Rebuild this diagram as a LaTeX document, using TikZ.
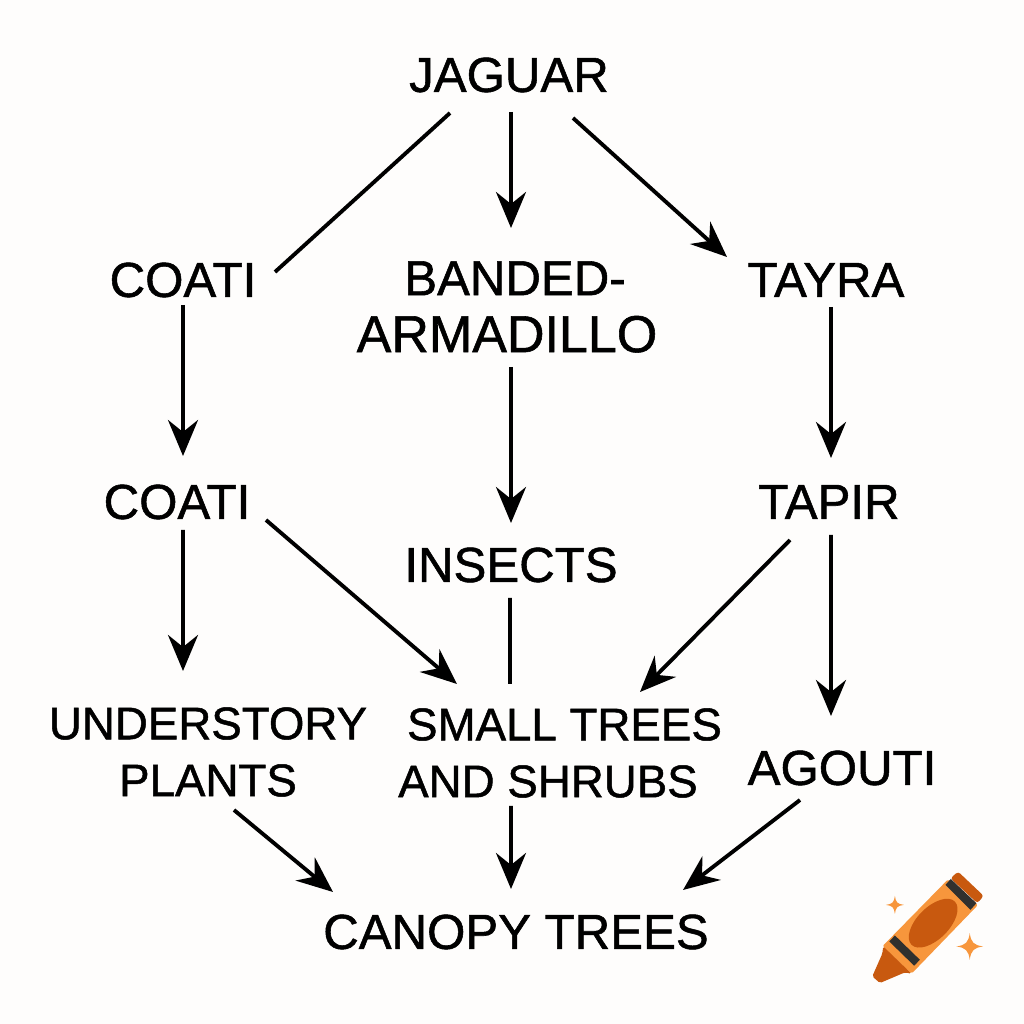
\documentclass[tikz,border=0pt]{standalone}
\usepackage{fontspec}
\setmainfont{Liberation Sans}[AutoFakeBold=1.1]
\usetikzlibrary{arrows.meta}
\definecolor{paper}{HTML}{FEFDFC}
\definecolor{crayon}{HTML}{F7963C}
\definecolor{crayondark}{HTML}{C8590F}
\definecolor{crayonband}{HTML}{30302E}
\tikzset{
  animal/.style={inner sep=0pt, align=center, font=\fontsize{14}{16.2}\selectfont\bfseries},
  plant/.style={animal, font=\fontsize{13}{16.2}\selectfont\bfseries},
  feeds/.style={line width=1.1pt, -{Stealth[length=3.6mm, width=3mm, inset=1.2mm]}},
  plainlink/.style={line width=1.1pt}
}
\begin{document}
\begin{tikzpicture}
\fill [paper] (0,0) rectangle (10.24,10.24);
\useasboundingbox (0,0) rectangle (10.24,10.24);
\node [animal] (jaguar) at (5.09,9.49) {JAGUAR};
\node [animal] (coatia) at (1.83,7.44) {COATI};
\node [animal] (armadillo) at (5.07,7.17) {\hspace*{.16cm}BANDED-\\{\fontsize{14.8}{16.2}\selectfont\bfseries ARMADILLO}};
\node [animal] (tayra) at (8.26,7.44) {TAYRA};
\node [animal] (coatib) at (1.77,5.22) {COATI};
\node [animal] (insects) at (5.11,4.59) {INSECTS};
\node [animal] (tapir) at (8.29,5.22) {TAPIR};
\node [plant] (understory) at (2.08,2.72) {UNDERSTORY\\PLANTS};
\node [plant] (shrubs) at (5.48,2.71) {\hspace*{.33cm}SMALL TREES\\AND SHRUBS};
\node [animal] (agouti) at (8.42,2.56) {AGOUTI};
\node [animal] (canopy) at (5.16,0.92) {CANOPY TREES};
\draw [plainlink] ([shift={(-.59,-.38)}]jaguar.center) -- ([shift={(.92,.08)}]coatia.center);
\draw [feeds] ([shift={(.02,-.37)}]jaguar.center) -- ([shift={(.04,.79)}]armadillo.center);
\draw [feeds] ([shift={(.64,-.43)}]jaguar.center) -- ([shift={(-.99,.23)}]tayra.center);
\draw [feeds] ([shift={(0,-.25)}]coatia.center) -- ([shift={(.06,.46)}]coatib.center);
\draw [feeds] ([shift={(.04,-.60)}]armadillo.center) -- ([shift={(0,.42)}]insects.center);
\draw [feeds] ([shift={(.05,-.27)}]tayra.center) -- ([shift={(.02,.44)}]tapir.center);
\draw [feeds] ([shift={(.06,-.28)}]coatib.center) -- ([shift={(-.25,.81)}]understory.center);
\draw [feeds] ([shift={(.89,-.18)}]coatib.center) -- ([shift={(-.91,.69)}]shrubs.center);
\draw [plainlink] ([shift={(-.01,-.33)}]insects.center) -- ([shift={(-.38,.69)}]shrubs.center);
\draw [feeds] ([shift={(-.39,-.38)}]tapir.center) -- ([shift={(.92,.61)}]shrubs.center);
\draw [feeds] ([shift={(.02,-.33)}]tapir.center) -- ([shift={(-.11,.52)}]agouti.center);
\draw [feeds] ([shift={(.26,-.58)}]understory.center) -- ([shift={(-1.83,.40)}]canopy.center);
\draw [feeds] ([shift={(-.37,-.53)}]shrubs.center) -- ([shift={(-.05,.43)}]canopy.center);
\draw [feeds] ([shift={(-.42,-.32)}]agouti.center) -- ([shift={(1.67,.42)}]canopy.center);
% crayon
\begin{scope}[shift={(8.5,1.74)}, x=.003333cm, y=-.003333cm]
\fill [crayon, rounded corners=.5pt] (295,88) -- (385,165) -- (185,372) -- (97,290) -- cycle;
\fill [crayondark, rounded corners=.8pt] (325,65) -- (402,138) -- (383,160) -- (302,85) -- cycle;
\fill [crayondark, rounded corners=.5pt] (100,290) -- (97,312) -- (67,380) -- (90,400) -- (165,368) -- (185,372) -- cycle;
\fill [crayon] (108,285) -- (190,362) -- (205,345) -- (123,268) -- cycle;
\fill [crayonband] (303,87) -- (380,160) -- (362,180) -- (287,105) -- cycle;
\fill [crayonband] (135,257) -- (210,330) -- (193,348) -- (118,275) -- cycle;
\fill [crayondark, rotate around={45:(250,220)}] (250,220) ellipse [x radius=92, y radius=48];
\fill [crayon] (135,138) .. controls (138,158) and (142,162) .. (162,165) .. controls (142,168) and (138,172) .. (135,192) .. controls (132,172) and (128,168) .. (108,165) .. controls (128,162) and (132,158) .. (135,138) -- cycle;
\fill [crayon] (360,250) .. controls (364,278) and (372,286) .. (400,290) .. controls (372,294) and (364,302) .. (360,330) .. controls (356,302) and (348,294) .. (320,290) .. controls (348,286) and (356,278) .. (360,250) -- cycle;
\end{scope}
\end{tikzpicture}
\end{document}
